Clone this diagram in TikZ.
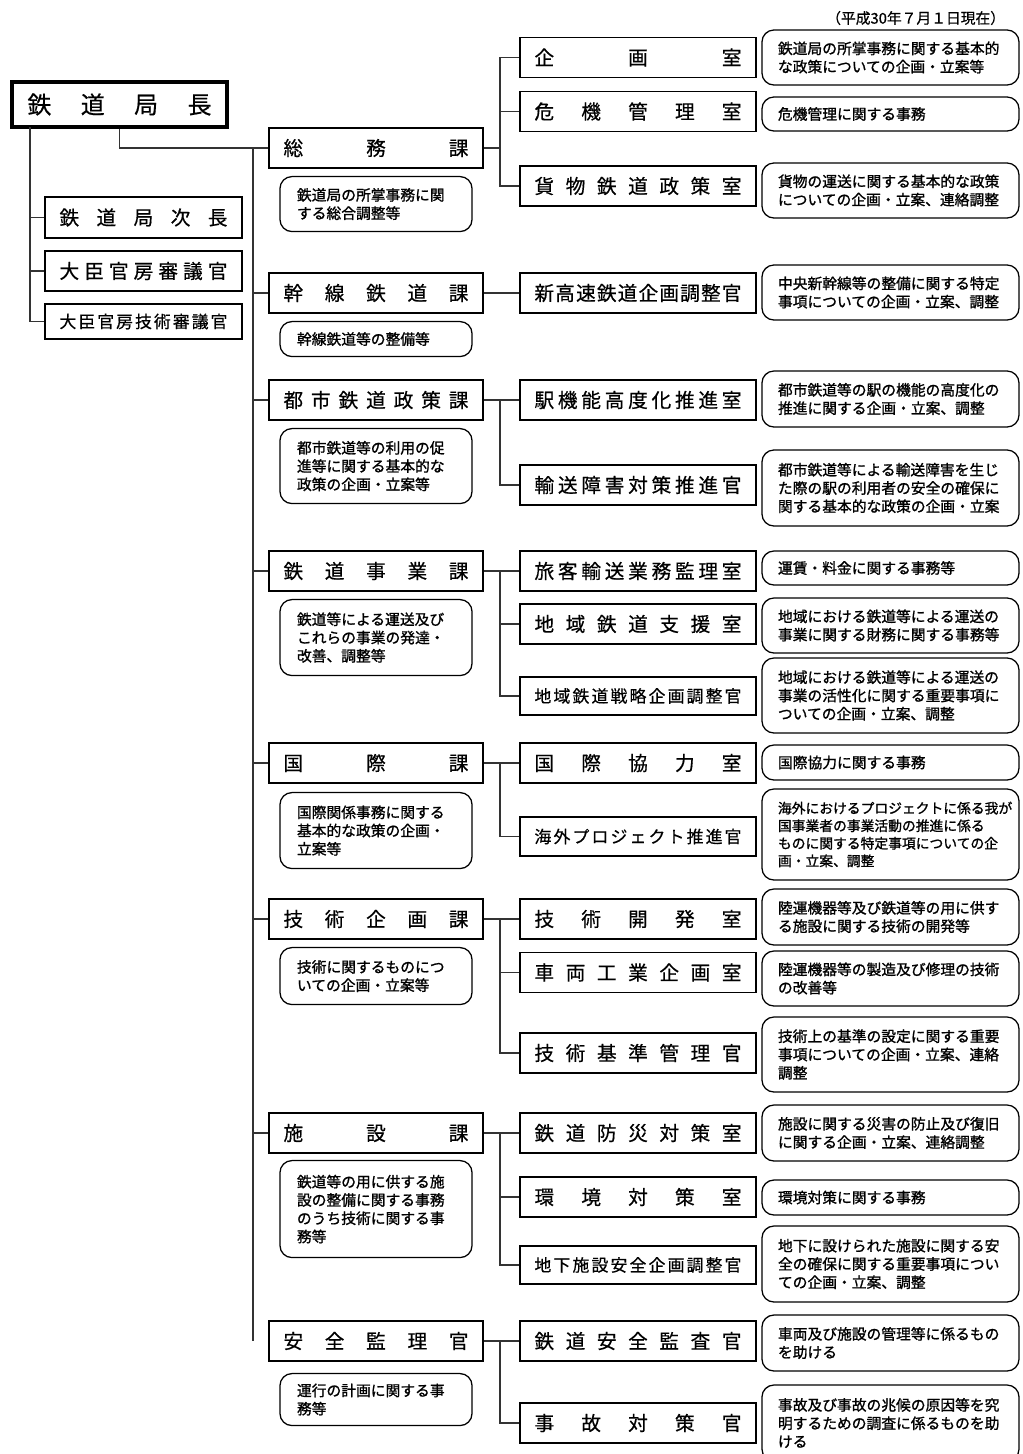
\documentclass[tikz,border=0pt]{standalone}
\usepackage{fontspec}
\setmainfont{Noto Sans CJK JP}
\newfontfamily\heavyjp{Noto Sans CJK JP}[FakeBold=1.2]
\newfontfamily\midjp{Noto Sans CJK JP}[FakeBold=0.5]
\usepackage{tikz}
\usetikzlibrary{positioning}
% spread the characters of a title over a fixed width
\newcommand\spreadto[2]{\hbox to #1{\spreadloop#2\relax}}
\def\spreadloop#1#2{#1\ifx\relax#2\else\hfil\expandafter\spreadloop\expandafter#2\fi}

\begin{document}
\begin{tikzpicture}[x=0.025cm,y=-0.025cm,
  chief/.style={draw,line width=2.4pt,minimum width=5.375cm,minimum height=1.125cm,inner sep=0pt,font=\midjp\fontsize{17}{20}\selectfont},
  side/.style={draw,line width=1.3pt,minimum width=4.925cm,minimum height=1.02cm,inner sep=0pt,font=\midjp\fontsize{14}{17}\selectfont},
  ka/.style={draw,line width=1.3pt,minimum width=5.35cm,minimum height=1cm,inner sep=0pt,font=\midjp\fontsize{14}{17}\selectfont},
  shitsu/.style={draw,line width=1.3pt,minimum width=5.9cm,minimum height=1cm,inner sep=0pt,font=\midjp\fontsize{14}{17}\selectfont},
  small/.style={font=\midjp\fontsize{12}{14}\selectfont},
  memo/.style={draw,line width=0.9pt,rounded corners=0.3cm,align=left,text width=3.95cm,inner xsep=0.425cm,inner ysep=0pt,font=\heavyjp\fontsize{10.5}{13}\selectfont},
  rmemo/.style={memo,text width=5.625cm,inner xsep=0.4cm},
  link/.style={line width=0.8pt,black!80}
]
  \useasboundingbox (0,0) rectangle (1022,1454);
  \node[anchor=east,font=\midjp\fontsize{10.5}{12}\selectfont] (date) at (1010,18) {（平成30年７月１日現在）};

  % bureau head and staff
  \node[chief] (chief) at (119.5,104.5) {\spreadto{4.6cm}{鉄道局長}};
  \node[side] (jicho) at (143.5,217.5) {\spreadto{4.2cm}{鉄道局次長}};
  \node[side] (shingi) at (143.5,271) {\spreadto{4.2cm}{大臣官房審議官}};
  \node[side,small,minimum height=0.875cm] (giken) at (143.5,321.5) {\spreadto{4.2cm}{大臣官房技術審議官}};

  % divisions
  \node[ka] (soumu) at (376,148) {\spreadto{4.625cm}{総務課}};
  \node[ka] (kansen) at (376,293) {\spreadto{4.625cm}{幹線鉄道課}};
  \node[ka] (toshi) at (376,400) {\spreadto{4.625cm}{都市鉄道政策課}};
  \node[ka] (jigyo) at (376,571) {\spreadto{4.625cm}{鉄道事業課}};
  \node[ka] (kokusai) at (376,763) {\spreadto{4.625cm}{国際課}};
  \node[ka] (gikaku) at (376,919) {\spreadto{4.625cm}{技術企画課}};
  \node[ka] (shisetsu) at (376,1133) {\spreadto{4.625cm}{施設課}};
  \node[ka] (anzen) at (376,1341) {\spreadto{4.625cm}{安全監理官}};

  \node[memo,minimum height=1.375cm,below=0.175cm of soumu] (msoumu) {鉄道局の所掌事務に関\\する総合調整等};
  \node[memo,minimum height=0.875cm,below=0.175cm of kansen] (mkansen) {幹線鉄道等の整備等};
  \node[memo,minimum height=1.875cm,below=0.175cm of toshi] (mtoshi) {都市鉄道等の利用の促\\進等に関する基本的な\\政策の企画・立案等};
  \node[memo,minimum height=1.9cm,below=0.175cm of jigyo] (mjigyo) {鉄道等による運送及び\\これらの事業の発達・\\改善、調整等};
  \node[memo,minimum height=1.9cm,below=0.2cm of kokusai] (mkokusai) {国際関係事務に関する\\基本的な政策の企画・\\立案等};
  \node[memo,minimum height=1.425cm,below=0.175cm of gikaku] (mgikaku) {技術に関するものにつ\\いての企画・立案等};
  \node[memo,minimum height=2.425cm,below=0.15cm of shisetsu] (mshisetsu) {鉄道等の用に供する施\\設の整備に関する事務\\のうち技術に関する事\\務等};
  \node[memo,minimum height=1.3cm,below=0.275cm of anzen] (manzen) {運行の計画に関する事\\務等};

  % offices
  \node[shitsu] (kikaku) at (638,57.5) {\spreadto{5.175cm}{企画室}};
  \node[shitsu] (kiki) at (638,111.5) {\spreadto{5.175cm}{危機管理室}};
  \node[shitsu] (kamotsu) at (638,186) {\spreadto{5.175cm}{貨物鉄道政策室}};
  \node[shitsu] (shinko) at (638,293) {\spreadto{5.175cm}{新高速鉄道企画調整官}};
  \node[shitsu] (eki) at (638,400) {\spreadto{5.175cm}{駅機能高度化推進室}};
  \node[shitsu] (yuso) at (638,485) {\spreadto{5.175cm}{輸送障害対策推進官}};
  \node[shitsu] (ryokaku) at (638,571) {\spreadto{5.175cm}{旅客輸送業務監理室}};
  \node[shitsu] (shien) at (638,624) {\spreadto{5.175cm}{地域鉄道支援室}};
  \node[shitsu,small,minimum height=0.95cm] (senryaku) at (638,696) {\spreadto{5.175cm}{地域鉄道戦略企画調整官}};
  \node[shitsu] (kyoryoku) at (638,763) {\spreadto{5.175cm}{国際協力室}};
  \node[shitsu,small,minimum height=0.975cm] (kaigai) at (638,836.5) {\spreadto{5.175cm}{海外プロジェクト推進官}};
  \node[shitsu] (kaihatsu) at (638,919) {\spreadto{5.175cm}{技術開発室}};
  \node[shitsu] (sharyo) at (638,972.5) {\spreadto{5.175cm}{車両工業企画室}};
  \node[shitsu] (kijun) at (638,1053) {\spreadto{5.175cm}{技術基準管理官}};
  \node[shitsu] (bosai) at (638,1133) {\spreadto{5.175cm}{鉄道防災対策室}};
  \node[shitsu] (kankyo) at (638,1197) {\spreadto{5.175cm}{環境対策室}};
  \node[shitsu,small,minimum height=0.95cm] (chika) at (638,1265) {\spreadto{5.175cm}{地下施設安全企画調整官}};
  \node[shitsu] (kansa) at (638,1341) {\spreadto{5.175cm}{鉄道安全監査官}};
  \node[shitsu] (jiko) at (638,1423) {\spreadto{5.175cm}{事故対策官}};

  \node[rmemo,minimum height=1.375cm] (mkikaku) at (890.5,57.5) {鉄道局の所掌事務に関する基本的\\な政策についての企画・立案等};
  \node[rmemo,minimum height=0.85cm] (mkiki) at (890.5,114) {危機管理に関する事務};
  \node[rmemo,minimum height=1.375cm] (mkamotsu) at (890.5,190.5) {貨物の運送に関する基本的な政策\\についての企画・立案、連絡調整};
  \node[rmemo,minimum height=1.375cm] (mshinko) at (890.5,292.5) {中央新幹線等の整備に関する特定\\事項についての企画・立案、調整};
  \node[rmemo,minimum height=1.4cm] (meki) at (890.5,399) {都市鉄道等の駅の機能の高度化の\\推進に関する企画・立案、調整};
  \node[rmemo,minimum height=1.9cm] (myuso) at (890.5,488) {都市鉄道等による輸送障害を生じ\\た際の駅の利用者の安全の確保に\\関する基本的な政策の企画・立案};
  \node[rmemo,minimum height=0.85cm] (mryokaku) at (890.5,568) {運賃・料金に関する事務等};
  \node[rmemo,minimum height=1.375cm] (mshien) at (890.5,625.5) {地域における鉄道等による運送の\\事業に関する財務に関する事務等};
  \node[rmemo,minimum height=1.875cm] (msenryaku) at (890.5,695.5) {地域における鉄道等による運送の\\事業の活性化に関する重要事項に\\ついての企画・立案、調整};
  \node[rmemo,minimum height=0.875cm] (mkyoryoku) at (890.5,762.5) {国際協力に関する事務};
  \node[rmemo,minimum height=2.275cm,font=\heavyjp\fontsize{9.8}{12.5}\selectfont] (mkaigai) at (890.5,834.5) {海外におけるプロジェクトに係る我が\\国事業者の事業活動の推進に係る\\ものに関する特定事項についての企\\画・立案、調整};
  \node[rmemo,minimum height=1.4cm] (mkaihatsu) at (890.5,917) {陸運機器等及び鉄道等の用に供す\\る施設に関する技術の開発等};
  \node[rmemo,minimum height=1.375cm] (msharyo) at (890.5,978.5) {陸運機器等の製造及び修理の技術\\の改善等};
  \node[rmemo,minimum height=1.875cm] (mkijun) at (890.5,1054.5) {技術上の基準の設定に関する重要\\事項についての企画・立案、連絡\\調整};
  \node[rmemo,minimum height=1.4cm] (mbosai) at (890.5,1133) {施設に関する災害の防止及び復旧\\に関する企画・立案、連絡調整};
  \node[rmemo,minimum height=0.875cm] (mkankyo) at (890.5,1197.5) {環境対策に関する事務};
  \node[rmemo,minimum height=1.9cm] (mchika) at (890.5,1264) {地下に設けられた施設に関する安\\全の確保に関する重要事項につい\\ての企画・立案、調整};
  \node[rmemo,minimum height=1.4cm] (mkansa) at (890.5,1343) {車両及び施設の管理等に係るもの\\を助ける};
  \node[rmemo,minimum height=1.9cm] (mjiko) at (890.5,1423) {事故及び事故の兆候の原因等を究\\明するための調査に係るものを助\\ける};

  % connectors
  \coordinate (lt) at (30,127);
  \coordinate (trunk) at (253,148);
  \coordinate (br) at (500,0);
  \draw[link] (lt) |- (giken.west);
  \draw[link] (lt |- jicho.west) -- (jicho.west);
  \draw[link] (lt |- shingi.west) -- (shingi.west);
  \draw[link] (chief.south) |- (soumu.west);
  \draw[link] (trunk) -- (trunk |- anzen.west);
  \draw[link] (trunk |- kansen.west) -- (kansen.west);
  \draw[link] (trunk |- toshi.west) -- (toshi.west);
  \draw[link] (trunk |- jigyo.west) -- (jigyo.west);
  \draw[link] (trunk |- kokusai.west) -- (kokusai.west);
  \draw[link] (trunk |- gikaku.west) -- (gikaku.west);
  \draw[link] (trunk |- shisetsu.west) -- (shisetsu.west);

  \draw[link] (soumu.east) -- (br |- soumu.east) |- (kikaku.west);
  \draw[link] (br |- soumu.east) |- (kiki.west);
  \draw[link] (br |- soumu.east) |- (kamotsu.west);
  \draw[link] (kansen.east) -- (shinko.west);
  \draw[link] (toshi.east) -- (eki.west);
  \draw[link] (br |- toshi.east) |- (yuso.west);
  \draw[link] (jigyo.east) -- (ryokaku.west);
  \draw[link] (br |- jigyo.east) |- (shien.west);
  \draw[link] (br |- jigyo.east) |- (senryaku.west);
  \draw[link] (kokusai.east) -- (kyoryoku.west);
  \draw[link] (br |- kokusai.east) |- (kaigai.west);
  \draw[link] (gikaku.east) -- (kaihatsu.west);
  \draw[link] (br |- gikaku.east) |- (sharyo.west);
  \draw[link] (br |- gikaku.east) |- (kijun.west);
  \draw[link] (shisetsu.east) -- (bosai.west);
  \draw[link] (br |- shisetsu.east) |- (kankyo.west);
  \draw[link] (br |- shisetsu.east) |- (chika.west);
  \draw[link] (anzen.east) -- (kansa.west);
  \draw[link] (br |- anzen.east) |- (jiko.west);
\end{tikzpicture}
\end{document}
